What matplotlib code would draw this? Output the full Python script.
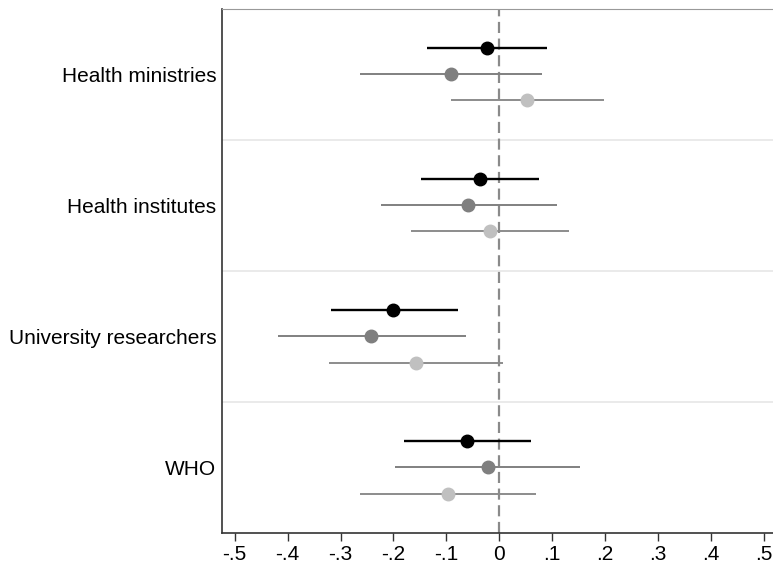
import matplotlib.pyplot as plt
import numpy as np

plt.rcParams['font.family'] = ['Liberation Sans', 'DejaVu Sans']

groups = ["Health ministries", "Health institutes", "University researchers", "WHO"]

# three estimates per group, each with its confidence interval
est_a = [-0.023, -0.037, -0.200, -0.061]
lo_a = [-0.136, -0.148, -0.319, -0.181]
hi_a = [0.090, 0.074, -0.079, 0.059]

est_b = [-0.092, -0.059, -0.242, -0.022]
lo_b = [-0.264, -0.224, -0.419, -0.197]
hi_b = [0.081, 0.108, -0.063, 0.153]

est_c = [0.053, -0.018, -0.158, -0.097]
lo_c = [-0.092, -0.167, -0.322, -0.263]
hi_c = [0.197, 0.131, 0.006, 0.069]

xticks = [-0.5, -0.4, -0.3, -0.2, -0.1, 0, 0.1, 0.2, 0.3, 0.4, 0.5]
xlabels = ["-.5", "-.4", "-.3", "-.2", "-.1", "0", ".1", ".2", ".3", ".4", ".5"]

fig = plt.figure(figsize=(7.73, 5.65), dpi=100)
ax = fig.add_axes([222 / 773, 32 / 565, 551 / 773, 524.5 / 565])

pos = np.arange(len(groups))

# separators between groups
for s in [0.5, 1.5, 2.5]:
    ax.axhline(s, color='#e6e6e6', lw=1.2, zorder=0)

ax.axvline(0, color='#8a8a8a', lw=1.6, dashes=(5, 2.5), zorder=1)

series = [
    (est_a, lo_a, hi_a, -0.2, 'black', 'black', 1.7),
    (est_b, lo_b, hi_b, 0.0, '#7f7f7f', '#808080', 1.4),
    (est_c, lo_c, hi_c, 0.2, '#c0c0c0', '#8c8c8c', 1.4),
]
for est, lo, hi, off, mcol, lcol, lw in series:
    y = pos + off
    ax.hlines(y, lo, hi, color=lcol, lw=lw, zorder=2)
    ax.plot(est, y, 'o', color=mcol, ms=9, zorder=3)

ax.set_ylim(3.5, -0.5)
ax.set_xlim(-0.524, 0.517)
ax.set_yticks(pos)
ax.set_yticklabels(groups, fontsize=15)
ax.tick_params(axis='y', length=0, pad=4)
ax.set_xticks(xticks)
ax.set_xticklabels(xlabels, fontsize=15)
ax.tick_params(axis='x', length=6, width=1, color='#333333', pad=3)

ax.spines['left'].set_color('#333333')
ax.spines['bottom'].set_color('#333333')
ax.spines['left'].set_linewidth(1.2)
ax.spines['bottom'].set_linewidth(1.2)
ax.spines['top'].set_color('#999999')
ax.spines['right'].set_visible(False)

fig.savefig('out.png', dpi=100)
